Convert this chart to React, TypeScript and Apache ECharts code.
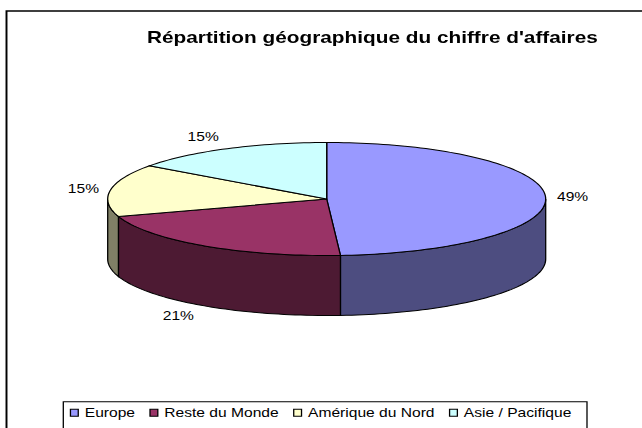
import React, { useEffect, useRef } from "react";
import * as echarts from "echarts";

// ---- data ----
const categories = ["Europe", "Reste du Monde", "Amérique du Nord", "Asie / Pacifique"];
const shares = [49, 21, 15, 15];
const topColors = ["#9999FF", "#993366", "#FFFFCC", "#CCFFFF"];
const sideColors = ["#4D4D80", "#4D1A33", "#808066", "#668080"];
const titleText = "Répartition géographique du chiffre d'affaires";

// ---- layout (the reference is stretched horizontally) ----
const SX = 1.3;
const W = 642 / SX;
const H = 428;
const CX = 326.7 / SX;
const CY = 199;
const RX = 219 / SX;
const RY = 56.5;
const DEPTH = 60;
const FONT = "'Liberation Sans', Arial, Helvetica, sans-serif";

function pt(theta: number, dy = 0): number[] {
  const r = (theta * Math.PI) / 180;
  return [CX + RX * Math.sin(r), CY - RY * Math.cos(r) + dy];
}

function arc(a0: number, a1: number, dy = 0): number[][] {
  const n = Math.max(2, Math.ceil(Math.abs(a1 - a0) / 1.5));
  const out: number[][] = [];
  for (let k = 0; k <= n; k++) out.push(pt(a0 + ((a1 - a0) * k) / n, dy));
  return out;
}

function makeRender(i: number) {
  return function renderItem(_params: any, _api: any) {
    const total = shares.reduce((a, b) => a + b, 0);
    let before = 0;
    for (let j = 0; j < i; j++) before += shares[j];
    const start = (before / total) * 360;
    const end = ((before + shares[i]) / total) * 360;
    const children: any[] = [];
    const s0 = Math.max(start, 90);
    const s1 = Math.min(end, 270);
    if (s1 > s0) {
      const pts = arc(s0, s1, 0).concat(arc(s0, s1, DEPTH).reverse());
      children.push({
        type: "polygon",
        shape: { points: pts },
        style: { fill: sideColors[i], stroke: "#000", lineWidth: 1 },
      });
    }
    children.push({
      type: "polygon",
      shape: { points: [[CX, CY]].concat(arc(start, end, 0)) },
      style: { fill: topColors[i], stroke: "#000", lineWidth: 1 },
    });
    const mid = (start + end) / 2;
    const r = (mid * Math.PI) / 180;
    const P = pt(mid, Math.cos(r) < 0 ? DEPTH : 0);
    const dx = RX * SX * Math.sin(r);
    const dy = -RY * Math.cos(r);
    const len = Math.sqrt(dx * dx + dy * dy) || 1;
    const dist = 27;
    children.push({
      type: "text",
      x: P[0] + (dist * dx) / len / SX,
      y: P[1] + (dist * dy) / len,
      style: {
        text: Math.round((shares[i] / total) * 100) + "%",
        fill: "#000",
        fontFamily: FONT,
        fontSize: 12,
        align: "center",
        verticalAlign: "middle",
      },
    });
    return { type: "group", children };
  };
}

export default function App() {
  const ref = useRef<HTMLDivElement>(null);
  useEffect(() => {
    if (!ref.current) return;
    const chart = echarts.init(ref.current, undefined, { renderer: "svg", width: W, height: H });
    chart.setOption({
      animation: false,
      backgroundColor: "#fff",
      title: {
        text: titleText,
        left: 147 / SX,
        top: 29,
        padding: 0,
        textStyle: { fontFamily: FONT, fontSize: 16, fontWeight: "bold", color: "#000" },
      },
      legend: {
        left: 63.3 / SX,
        top: 401.7,
        orient: "horizontal",
        icon: "rect",
        itemWidth: 6,
        itemHeight: 7,
        itemGap: 11,
        padding: [5, 12, 14, 5],
        borderColor: "#000",
        borderWidth: 1,
        selectedMode: false,
        data: categories,
        textStyle: { fontFamily: FONT, fontSize: 12, color: "#000" },
        itemStyle: { borderColor: "#000", borderWidth: 1 },
      },
      graphic: [
        {
          type: "rect",
          silent: true,
          shape: { x: 5, y: 11, width: 700, height: 700 },
          style: { fill: "none", stroke: "#000", lineWidth: 1.5 },
        },
      ],
      series: categories.map((name, i) => ({
        type: "custom",
        name,
        coordinateSystem: "none",
        itemStyle: { color: topColors[i], borderColor: "#000", borderWidth: 1 },
        data: [[shares[i]]],
        renderItem: makeRender(i),
      })),
    });
    return () => chart.dispose();
  }, []);
  return (
    <div
      style={{
        position: "absolute",
        left: 0,
        top: 0,
        width: 642,
        height: 428,
        overflow: "hidden",
        background: "#fff",
      }}
    >
      <div
        ref={ref}
        style={{
          width: W,
          height: H,
          transform: `scaleX(${SX})`,
          transformOrigin: "0 0",
        }}
      />
    </div>
  );
}
